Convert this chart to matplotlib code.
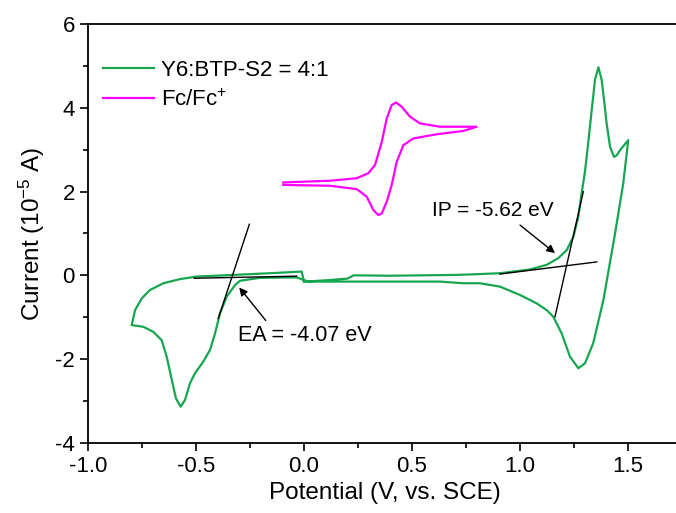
import matplotlib
matplotlib.use("Agg")
import matplotlib.pyplot as plt
from matplotlib.ticker import MultipleLocator, FormatStrFormatter

plt.rcParams["font.family"] = ["Liberation Sans", "DejaVu Sans"]
plt.rcParams["mathtext.fontset"] = "custom"
plt.rcParams["mathtext.rm"] = "Liberation Sans"
plt.rcParams["mathtext.it"] = "Liberation Sans"
plt.rcParams["axes.unicode_minus"] = False

# Y6:BTP-S2 = 4:1 cyclic voltammogram, one closed loop starting at 0 V
cv_potential = [
    0.00, 0.10, 0.20, 0.23, 0.40, 0.55, 0.71, 0.815, 0.907, 1.046, 1.123, 1.177,
    1.216, 1.247, 1.270, 1.285, 1.300, 1.312, 1.332, 1.347, 1.363, 1.378, 1.389,
    1.401, 1.417, 1.435, 1.448, 1.463, 1.501,
    1.478, 1.440, 1.386, 1.339, 1.301, 1.270, 1.231, 1.193, 1.154, 1.123, 1.077,
    1.00, 0.907, 0.815, 0.738, 0.63, 0.40, 0.20, 0.02,
    -0.034, -0.204, -0.296, -0.319, -0.358, -0.389, -0.412, -0.435, -0.466,
    -0.505, -0.528, -0.551, -0.571, -0.593, -0.612, -0.636, -0.659, -0.698,
    -0.744, -0.798,
    -0.782, -0.751, -0.713, -0.651, -0.574, -0.497, -0.327, -0.157, -0.011, 0.00,
]
cv_current = [
    -0.15, -0.12, -0.08, 0.00, -0.01, 0.00, 0.01, 0.03, 0.05, 0.14, 0.25, 0.41,
    0.60, 0.92, 1.40, 1.96, 2.45, 2.99, 3.95, 4.67, 4.97, 4.67, 4.19,
    3.63, 3.07, 2.83, 2.87, 2.99, 3.23,
    2.20, 1.00, -0.59, -1.62, -2.10, -2.22, -1.94, -1.39, -0.99, -0.83, -0.67,
    -0.47, -0.27, -0.19, -0.19, -0.15, -0.15, -0.15, -0.15,
    -0.05, -0.06, -0.13, -0.23, -0.51, -0.91, -1.39, -1.78, -2.06,
    -2.34, -2.58, -2.98, -3.14, -2.94, -2.50, -1.94, -1.55, -1.35,
    -1.23, -1.19,
    -0.83, -0.55, -0.35, -0.19, -0.09, -0.03, 0.01, 0.05, 0.09, -0.15,
]

# Fc/Fc+ reference voltammogram
fc_potential = [
    -0.096, 0.120, 0.244, 0.298, 0.329, 0.360, 0.383, 0.406, 0.426, 0.452, 0.491,
    0.537, 0.630, 0.738, 0.799,
    0.738, 0.614, 0.506, 0.460, 0.429, 0.406, 0.383, 0.360, 0.344, 0.321, 0.290,
    0.244, 0.120, -0.096,
]
fc_current = [
    2.22, 2.26, 2.32, 2.44, 2.64, 3.19, 3.75, 4.07, 4.13, 4.03, 3.79,
    3.63, 3.55, 3.55, 3.55,
    3.45, 3.37, 3.27, 3.11, 2.71, 2.16, 1.76, 1.48, 1.44, 1.56, 1.88,
    2.06, 2.14, 2.16,
]

# onset tangent lines
ea_tangent_x, ea_tangent_y = [-0.397, -0.253], [-1.03, 1.22]
ea_base_x, ea_base_y = [-0.508, -0.034], [-0.07, -0.02]
ip_tangent_x, ip_tangent_y = [1.162, 1.293], [-0.99, 2.0]
ip_base_x, ip_base_y = [0.907, 1.355], [0.03, 0.32]

green = "#17A650"
magenta = "#FF00FF"

fig = plt.figure(figsize=(6.76, 5.13), dpi=100)
ax = fig.add_axes([0.1302, 0.137, 0.8787, 0.8158])

ax.plot(cv_potential, cv_current, color=green, linewidth=1.6,
        solid_joinstyle="round", label="Y6:BTP-S2 = 4:1")
ax.plot(fc_potential, fc_current, color=magenta, linewidth=1.6,
        solid_joinstyle="round", label="Fc/Fc$^{+}$")

for xs, ys in [(ea_tangent_x, ea_tangent_y), (ea_base_x, ea_base_y),
               (ip_tangent_x, ip_tangent_y), (ip_base_x, ip_base_y)]:
    ax.plot(xs, ys, color="black", linewidth=1.0)

arrow = dict(arrowstyle="-|>", color="black", lw=1.0, shrinkA=0, shrinkB=0,
             mutation_scale=12)
ax.annotate("", xy=(-0.300, -0.29), xytext=(-0.177, -1.08), arrowprops=arrow)
ax.text(-0.306, -1.43, "EA = -4.07 eV", fontsize=15.5, va="center", ha="left")
ax.annotate("", xy=(1.162, 0.53), xytext=(1.0, 1.20), arrowprops=arrow)
ax.text(0.591, 1.56, "IP = -5.62 eV", fontsize=15, va="center", ha="left")

ax.set_xlim(-1.0, 1.75)
ax.set_ylim(-4, 6)
ax.xaxis.set_major_locator(MultipleLocator(0.5))
ax.xaxis.set_minor_locator(MultipleLocator(0.25))
ax.yaxis.set_major_locator(MultipleLocator(2))
ax.yaxis.set_minor_locator(MultipleLocator(1))
ax.xaxis.set_major_formatter(FormatStrFormatter("%.1f"))
ax.tick_params(which="major", direction="out", length=6, width=1.2, labelsize=16)
ax.tick_params(which="minor", direction="out", length=3.5, width=1.2)
for side in ["left", "bottom", "top", "right"]:
    ax.spines[side].set_linewidth(1.3)

ax.set_xlabel("Potential (V, vs. SCE)", fontsize=17.5, labelpad=4)
ax.set_ylabel("Current (10$^{-5}$ A)", fontsize=17.5, labelpad=6)

ax.legend(loc="upper left", bbox_to_anchor=(0.025, 0.915), frameon=False, fontsize=16,
          handlelength=2.3, handletextpad=0.3, labelspacing=0.4,
          borderpad=0, borderaxespad=0)

fig.savefig("out.png", dpi=100)
